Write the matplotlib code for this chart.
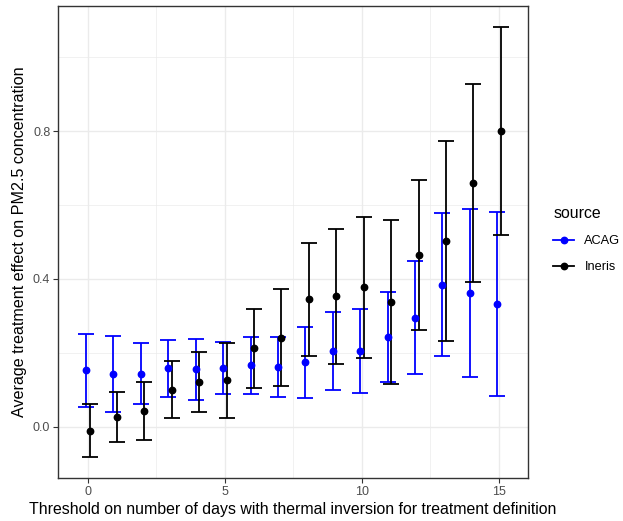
import matplotlib
matplotlib.use("Agg")
import matplotlib.pyplot as plt
from matplotlib.lines import Line2D
import numpy as np

plt.rcParams['font.family'] = ['Liberation Sans', 'DejaVu Sans']

thresholds = list(range(16))
acag_est = [0.153, 0.144, 0.144, 0.159, 0.156, 0.159, 0.167, 0.163, 0.175, 0.206, 0.204, 0.243, 0.295, 0.385, 0.362, 0.332]
acag_lo  = [0.055, 0.041, 0.061, 0.082, 0.074, 0.089, 0.090, 0.081, 0.078, 0.101, 0.091, 0.122, 0.143, 0.191, 0.135, 0.084]
acag_hi  = [0.252, 0.247, 0.227, 0.236, 0.238, 0.231, 0.244, 0.244, 0.271, 0.312, 0.318, 0.366, 0.449, 0.578, 0.588, 0.580]
ineris_est = [-0.010, 0.027, 0.043, 0.100, 0.122, 0.126, 0.214, 0.241, 0.345, 0.354, 0.377, 0.338, 0.465, 0.503, 0.660, 0.800]
ineris_lo  = [-0.081, -0.041, -0.034, 0.023, 0.041, 0.025, 0.106, 0.110, 0.193, 0.171, 0.187, 0.115, 0.263, 0.232, 0.393, 0.519]
ineris_hi  = [0.062, 0.095, 0.121, 0.177, 0.203, 0.227, 0.319, 0.373, 0.498, 0.535, 0.568, 0.560, 0.667, 0.772, 0.927, 1.081]

series = [("ACAG", "#0000FF", acag_est, acag_lo, acag_hi, -0.065),
          ("Ineris", "#000000", ineris_est, ineris_lo, ineris_hi, 0.065)]

fig = plt.figure(figsize=(6.23, 5.21), dpi=100)
ax = fig.add_axes([58/623, 43/521, 470/623, 472/521])

for name, col, est, lo, hi, off in series:
    x = np.array(thresholds) + off
    est = np.array(est); lo = np.array(lo); hi = np.array(hi)
    ax.errorbar(x, est, yerr=[est - lo, hi - est], fmt='none', ecolor=col,
                elinewidth=1.3, capsize=6, capthick=1.3, zorder=3)
    ax.plot(x, est, 'o', color=col, markersize=4.6, zorder=4)

ax.set_xlim(-1.09, 16.06)
ax.set_ylim(-0.138, 1.138)
ax.set_xticks([0, 5, 10, 15])
ax.set_xticks([2.5, 7.5, 12.5], minor=True)
ax.set_yticks([0.0, 0.4, 0.8])
ax.set_yticklabels(["0.0", "0.4", "0.8"])
ax.set_yticks([0.2, 0.6, 1.0], minor=True)
ax.grid(which='major', color='#EBEBEB', linewidth=1.0, zorder=0)
ax.grid(which='minor', color='#EBEBEB', linewidth=0.5, zorder=0)
ax.set_axisbelow(True)
for s in ax.spines.values():
    s.set_color('#333333')
    s.set_linewidth(1.0)
ax.tick_params(which='major', length=3.5, width=0.8, color='#333333', labelsize=9, labelcolor='#4D4D4D', pad=2)
ax.tick_params(which='minor', length=0)
ax.set_xlabel("Threshold on number of days with thermal inversion for treatment definition", fontsize=11.45, labelpad=3)
ax.set_ylabel("Average treatment effect on PM2.5 concentration", fontsize=11.6, labelpad=4)

handles = [Line2D([0], [0], color=c, marker='o', markersize=4.6, linewidth=1.3) for _, c, *_ in series]
leg = fig.legend(handles, [s[0] for s in series], title="source", loc='upper left',
                 bbox_to_anchor=(548/623, 1 - 201/521), frameon=False, fontsize=9.2,
                 title_fontsize=11.4, handlelength=1.65, labelspacing=1.1, borderaxespad=0,
                 handletextpad=0.8)
leg._legend_box.align = "left"

fig.savefig("out.png", dpi=100)
